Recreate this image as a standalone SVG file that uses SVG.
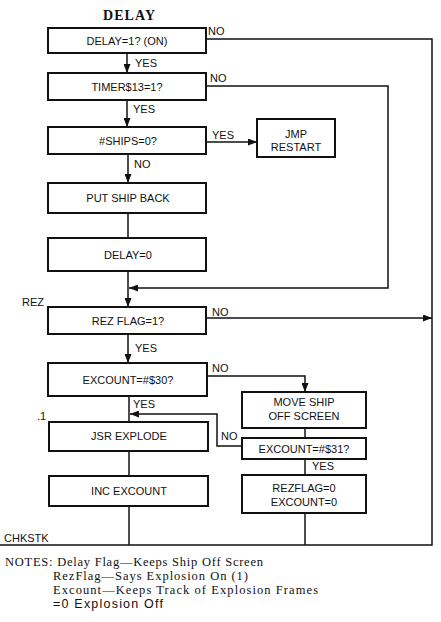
<svg xmlns="http://www.w3.org/2000/svg" width="441" height="622" viewBox="0 0 441 622">
<defs>
<style>
.box{fill:#fff;stroke:#111;stroke-width:2}
.ln{fill:none;stroke:#111;stroke-width:1.5}
.t{font-family:"Liberation Sans",Arial,sans-serif;font-size:11px;fill:#111;text-anchor:middle}
.lb{font-family:"Liberation Sans",Arial,sans-serif;font-size:11px;fill:#111}
.n{font-family:"Liberation Serif","Times New Roman",serif;font-size:12.5px;fill:#111}
</style>
<marker id="ah" markerUnits="userSpaceOnUse" markerWidth="9" markerHeight="7" refX="9" refY="3.5" orient="auto">
<path d="M0,0 L9,3.5 L0,7 z" fill="#111"/>
</marker>
</defs>
<rect width="441" height="622" fill="#fff"/>
<text x="129" y="20" font-family="Liberation Serif,'Times New Roman',serif" font-weight="bold" font-size="14" text-anchor="middle" fill="#111" textLength="52">DELAY</text>

<g id="connectors">
<path class="ln" d="M127,53 V73" marker-end="url(#ah)"/>
<path class="ln" d="M127,100 V127" marker-end="url(#ah)"/>
<path class="ln" d="M128,154 V183" marker-end="url(#ah)"/>
<path class="ln" d="M128,213 V238"/>
<path class="ln" d="M128,271 V307" marker-end="url(#ah)"/>
<path class="ln" d="M128,334 V363" marker-end="url(#ah)"/>
<path class="ln" d="M129,396 V422"/>
<path class="ln" d="M129,451 V476"/>
<path class="ln" d="M129,506 V545"/>
<path class="ln" d="M0,545 H432 V39 H206"/>
<path class="ln" d="M206,86 H388 V288 H129" marker-end="url(#ah)"/>
<path class="ln" d="M206,142 H257" marker-end="url(#ah)"/>
<path class="ln" d="M206,318 H432" marker-end="url(#ah)"/>
<path class="ln" d="M207,376 H305 V392" marker-end="url(#ah)"/>
<path class="ln" d="M305,428 V438"/>
<path class="ln" d="M242,446 H217 V414 H130" marker-end="url(#ah)"/>
<path class="ln" d="M305,459 V475"/>
<path class="ln" d="M305,513 V545"/>
<text class="lb" x="135" y="67">YES</text>
<text class="lb" x="133" y="113">YES</text>
<text class="lb" x="134" y="168">NO</text>
<text class="lb" x="135" y="352">YES</text>
<text class="lb" x="133" y="408">YES</text>
<text class="lb" x="208" y="35">NO</text>
<text class="lb" x="210" y="82">NO</text>
<text class="lb" x="212" y="139">YES</text>
<text class="lb" x="212" y="316">NO</text>
<text class="lb" x="212" y="372">NO</text>
<text class="lb" x="221" y="440">NO</text>
<text class="lb" x="312" y="470">YES</text>
</g>

<g id="delay-on"><rect class="box" x="48" y="28" width="158" height="25"/><text class="t" x="127" y="45">DELAY=1? (ON)</text></g>
<g id="timer"><rect class="box" x="48" y="73" width="158" height="27"/><text class="t" x="127" y="90.5">TIMER$13=1?</text></g>
<g id="ships"><rect class="box" x="48" y="127" width="158" height="27"/><text class="t" x="128" y="145">#SHIPS=0?</text></g>
<g id="jmp-restart"><rect class="box" x="257" y="119" width="78" height="38"/><text class="t" x="296" y="138">JMP</text><text class="t" x="296" y="151">RESTART</text></g>
<g id="put-ship-back"><rect class="box" x="48" y="183" width="158" height="30"/><text class="t" x="128" y="202">PUT SHIP BACK</text></g>
<g id="delay-zero"><rect class="box" x="48" y="238" width="158" height="33"/><text class="t" x="128" y="258.5">DELAY=0</text></g>
<g id="rez-flag"><rect class="box" x="48" y="307" width="158" height="27"/><text class="t" x="128" y="325">REZ FLAG=1?</text></g>
<g id="excount30"><rect class="box" x="48" y="363" width="159" height="33"/><text class="t" x="128" y="384">EXCOUNT=#$30?</text></g>
<g id="jsr-explode"><rect class="box" x="49" y="422" width="159" height="29"/><text class="t" x="129" y="440">JSR EXPLODE</text></g>
<g id="inc-excount"><rect class="box" x="49" y="476" width="159" height="30"/><text class="t" x="129" y="495">INC EXCOUNT</text></g>
<g id="move-ship"><rect class="box" x="242" y="392" width="124" height="36"/><text class="t" x="304" y="406">MOVE SHIP</text><text class="t" x="304" y="420">OFF SCREEN</text></g>
<g id="excount31"><rect class="box" x="242" y="438" width="124" height="21"/><text class="t" x="304" y="452.5">EXCOUNT=#$31?</text></g>
<g id="reset"><rect class="box" x="242" y="475" width="124" height="38"/><text class="t" x="304" y="492">REZFLAG=0</text><text class="t" x="304" y="506">EXCOUNT=0</text></g>

<g id="labels">
<text class="lb" x="22" y="306">REZ</text>
<text class="lb" x="37" y="420">.1</text>
<text class="lb" x="4" y="542">CHKSTK</text>
</g>
<g id="notes">
<text class="n" x="5" y="566" textLength="258">NOTES: Delay Flag—Keeps Ship Off Screen</text>
<text class="n" x="53" y="580" textLength="195">RezFlag—Says Explosion On (1)</text>
<text class="n" x="53" y="594" textLength="265">Excount—Keeps Track of Explosion Frames</text>
<text x="53" y="608" font-family="Liberation Sans,Arial,sans-serif" font-size="12.5" fill="#111" textLength="110">=0 Explosion Off</text>
</g>
</svg>
